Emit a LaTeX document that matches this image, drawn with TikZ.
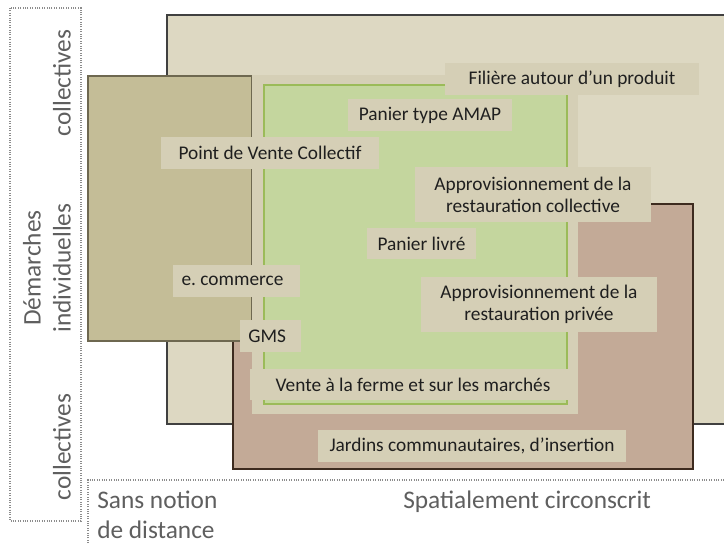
\documentclass[tikz,border=0pt]{standalone}
\usepackage{fontspec}
\setmainfont{Carlito}
\definecolor{bigfill}{HTML}{DDD8C2}
\definecolor{bigdraw}{HTML}{404040}
\definecolor{olivefill}{HTML}{C4BD97}
\definecolor{olivedraw}{HTML}{6E6850}
\definecolor{brownfill}{HTML}{C3AA97}
\definecolor{browndraw}{HTML}{3D2B1F}
\definecolor{labfill}{HTML}{D5CFB6}
\definecolor{greenfill}{HTML}{C4D69E}
\definecolor{greendraw}{HTML}{9BBB59}
\definecolor{labtext}{HTML}{1F1F1F}
\definecolor{axisgray}{HTML}{5F5F5F}
\definecolor{dotgray}{HTML}{8C8C8C}
\begin{document}
\begin{tikzpicture}[x=0.75pt,y=-0.75pt,
  lab/.style={fill=labfill, inner sep=0pt, text=labtext, font=\fontsize{14.5}{16.5}\selectfont, align=center},
  axis/.style={text=axisgray, font=\fontsize{19}{22.5}\selectfont, inner sep=0pt},
  frame/.style={dotgray, densely dotted, line width=0.8pt}]
\useasboundingbox (0,0) rectangle (724,545);
\fill[white] (0,0) rectangle (724,545);
% zones
\draw[bigdraw, fill=bigfill, line width=1pt] (167,15) rectangle (740,424);
\draw[browndraw, fill=brownfill, line width=1.2pt] (233,204) rectangle (693,469);
\draw[olivedraw, fill=olivefill, line width=1pt] (88,76) rectangle (252,341);
\fill[labfill] (252,75) rectangle (578,414);
\draw[greendraw, fill=greenfill, line width=0.8pt] (264,85) rectangle (567,404);
% labels
\node[lab, minimum width=190.5pt, minimum height=24pt] (filiere) at (572,79) {Filière autour d’un produit};
\node[lab, minimum width=123pt, minimum height=24pt] (amap) at (430,115) {Panier type AMAP};
\node[lab, minimum width=163.5pt, minimum height=24pt] (pvc) at (270,153) {Point de Vente Collectif};
\node[lab, minimum width=177pt, minimum height=41.25pt] (approcoll) at (533,194.5) {Approvisionnement de la\\restauration collective};
\node[lab, minimum width=81.75pt, minimum height=23.25pt] (livre) at (421.5,243.5) {Panier livré};
\node[lab, minimum width=95.25pt, minimum height=24pt] (ecom) at (236.5,281) {\hspace*{-6pt}e.\ commerce};
\node[lab, minimum width=177pt, minimum height=41.25pt] (approprive) at (539,304.5) {Approvisionnement de la\\restauration privée};
\node[lab, minimum width=45.75pt, minimum height=24pt] (gms) at (270.5,336) {\hspace*{-5pt}GMS};
\node[lab, minimum width=244.5pt, minimum height=23.25pt] (vente) at (413,384.5) {Vente à la ferme et sur les marchés};
\draw[greendraw, line width=0.8pt] (264,400) -- (264,404) -- (567,404) -- (567,400);
\node[lab, minimum width=231pt, minimum height=24pt] (jardins) at (472,446) {Jardins communautaires, d’insertion};
% axes
\draw[frame] (10,8) rectangle (81,521);
\draw[frame] (88,560) -- (88,480) -- (740,480);
\node[axis, rotate=90] (coltop) at (62,83) {collectives};
\node[axis, rotate=90, align=center] (indiv) at (47,268) {Démarches\\individuelles};
\node[axis, rotate=90] (colbot) at (62,447) {collectives};
\node[axis, anchor=north west, align=left] (sans) at (97,491) {Sans notion\\de distance};
\node[axis, anchor=north west] (spatial) at (403,491) {Spatialement circonscrit};
\end{tikzpicture}
\end{document}
